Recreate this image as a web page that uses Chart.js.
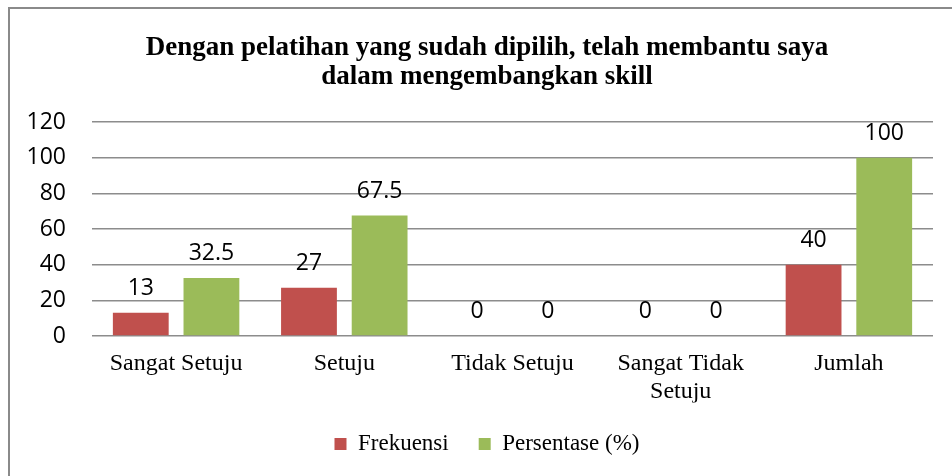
<!DOCTYPE html>
<html>
<head>
<meta charset="utf-8">
<script src="https://cdn.jsdelivr.net/npm/chart.js@4"></script>
<style>
    html, body { margin: 0; padding: 0; background: #fff; overflow: hidden; }
    #frame {
        position: absolute; left: 8px; top: 7px;
        width: 1000px; height: 1000px;
        border: 2px solid #8a8a8a;
    }
    #chart { position: absolute; left: 0; top: 0; }
</style>
</head>
<body>
<div id="frame"></div>
<canvas id="chart" width="952" height="476"></canvas>
<script>
    const categories = ['Sangat Setuju', 'Setuju', 'Tidak Setuju', ['Sangat Tidak', 'Setuju'], 'Jumlah'];
    const frekuensi = [13, 27, 0, 0, 40];
    const persentase = [32.5, 67.5, 0, 0, 100];
    const yTicks = [0, 20, 40, 60, 80, 100, 120];
    const titleLines = ['Dengan pelatihan yang sudah dipilih, telah membantu saya', 'dalam mengembangkan skill'];

    const numFont = '"Open Sans", "Liberation Sans", sans-serif';
    const serifFont = '"Liberation Serif", "Times New Roman", serif';

    // value labels above each bar
    const barLabels = {
        id: 'barLabels',
        afterDatasetsDraw(chart) {
            const ctx = chart.ctx;
            ctx.save();
            ctx.font = '23px ' + numFont;
            ctx.fillStyle = '#000';
            ctx.textAlign = 'center';
            ctx.textBaseline = 'alphabetic';
            chart.data.datasets.forEach((ds, i) => {
                chart.getDatasetMeta(i).data.forEach((bar, j) => {
                    ctx.fillText(String(ds.data[j]), bar.x, bar.y - 18);
                });
            });
            ctx.restore();
        }
    };

    // title and legend sit a bit right of the canvas centre in the original
    const shiftBlocks = {
        id: 'shiftBlocks',
        afterLayout(chart) {
            const dx = 20.5;
            [chart.titleBlock, chart.legend].forEach(b => {
                if (b) { b.left += dx; b.right += dx; }
            });
        }
    };

    const ctx = document.getElementById('chart').getContext('2d');

    new Chart(ctx, {
        type: 'bar',
        data: {
            labels: categories,
            datasets: [{
                label: 'Frekuensi',
                data: frekuensi,
                backgroundColor: '#C0504D',
                borderWidth: 0,
                categoryPercentage: 0.84,
                barPercentage: 0.79
            }, {
                label: 'Persentase (%)',
                data: persentase,
                backgroundColor: '#9BBB59',
                borderWidth: 0,
                categoryPercentage: 0.84,
                barPercentage: 0.79
            }]
        },
        options: {
            responsive: false,
            animation: false,
            layout: {
                padding: { left: 0, right: 19, top: 0, bottom: 10.5 }
            },
            scales: {
                y: {
                    min: 0,
                    max: 120,
                    afterBuildTicks(scale) {
                        scale.ticks = yTicks.map(v => ({ value: v }));
                    },
                    afterFit(scale) { scale.width = 92; },
                    border: { display: false },
                    grid: {
                        color: '#8c8c8c',
                        lineWidth: 1.5,
                        drawTicks: false
                    },
                    ticks: {
                        color: '#000',
                        font: { size: 23, family: numFont },
                        padding: 26
                    }
                },
                x: {
                    afterFit(scale) { scale.height = 66.5; },
                    border: { display: false },
                    grid: { display: false, drawTicks: false },
                    ticks: {
                        color: '#000',
                        font: { size: 24, family: serifFont, lineHeight: 1.15 },
                        padding: 14,
                        maxRotation: 0,
                        minRotation: 0,
                        autoSkip: false
                    }
                }
            },
            plugins: {
                title: {
                    display: true,
                    text: titleLines,
                    color: '#000',
                    font: { size: 27, weight: 'bold', family: serifFont, lineHeight: 1.055 },
                    padding: { top: 34, bottom: 31 }
                },
                legend: {
                    position: 'bottom',
                    labels: {
                        color: '#000',
                        font: { size: 23, family: serifFont },
                        boxWidth: 12,
                        boxHeight: 12,
                        padding: 30
                    }
                },
                tooltip: { enabled: false }
            }
        },
        plugins: [barLabels, shiftBlocks]
    });
</script>
</body>
</html>
